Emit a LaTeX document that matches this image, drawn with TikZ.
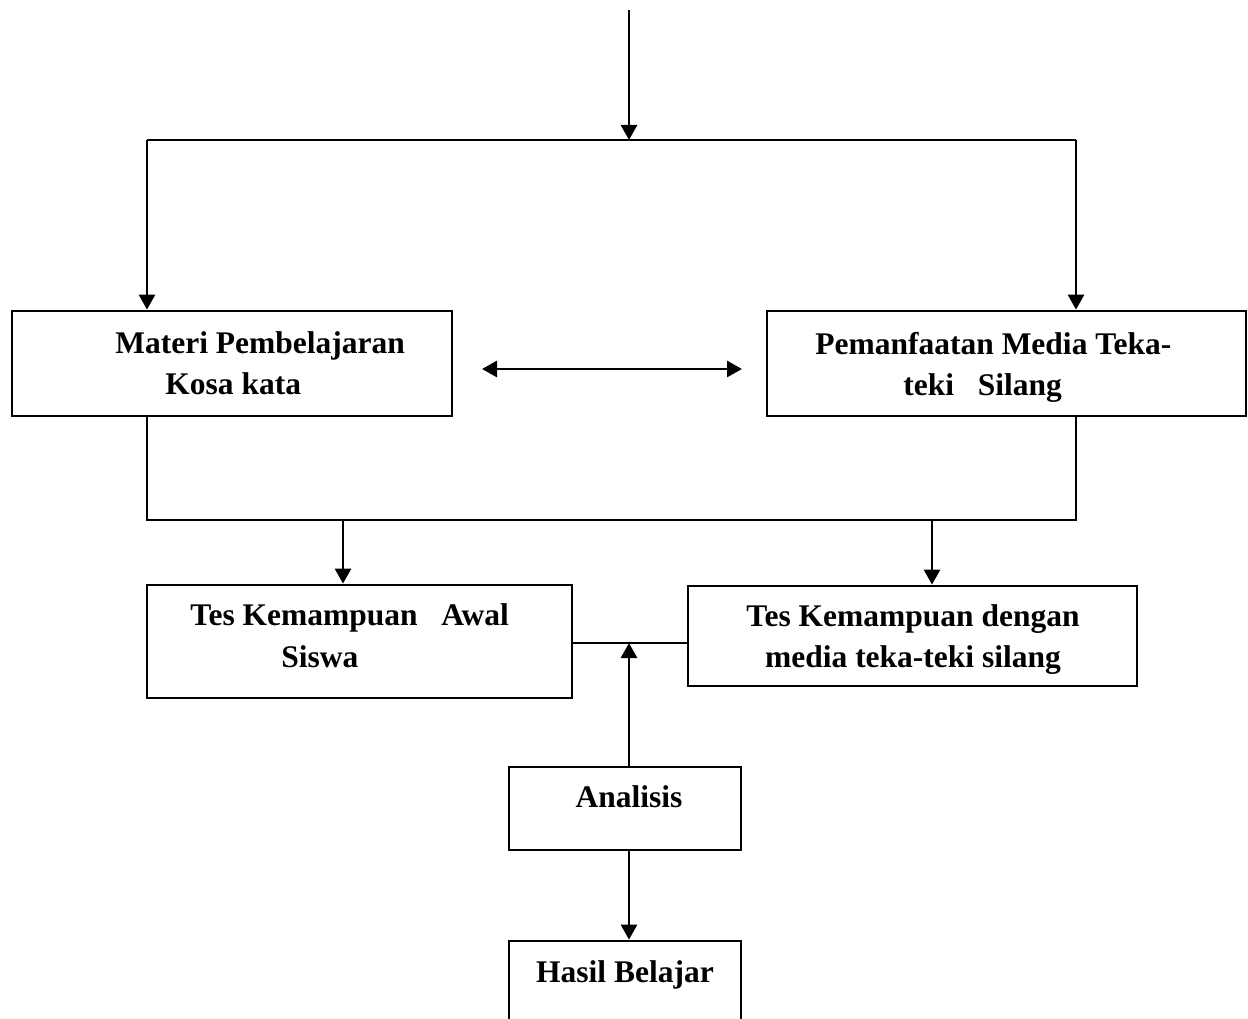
\documentclass[tikz,border=0pt]{standalone}
\usepackage{fontspec}
\setmainfont{Liberation Serif}
\usetikzlibrary{arrows.meta}
\begin{document}
\begin{tikzpicture}[x=1pt,y=-1pt,
  line width=2.8pt,
  arr/.style={-{Triangle[length=15pt,width=16pt]}},
  darr/.style={{Triangle[length=15pt,width=16pt]}-{Triangle[length=15pt,width=16pt]}},
  boxn/.style={draw,line width=2.8pt,inner sep=0pt,rectangle},
  txt/.style={inner sep=0pt,font=\fontsize{31.5}{41}\selectfont\bfseries}]
\useasboundingbox (0,0) rectangle (1248,1019);
\clip (0,0) rectangle (1248,1019);
% boxes
\node[boxn,minimum width=440pt,minimum height=105pt] (b1) at (232,363.5) {};
\node[boxn,minimum width=479pt,minimum height=105pt] (b2) at (1006.5,363.5) {};
\node[boxn,minimum width=425pt,minimum height=113pt] (b3) at (359.5,641.5) {};
\node[boxn,minimum width=449pt,minimum height=100pt] (b4) at (912.5,636) {};
\node[boxn,minimum width=232pt,minimum height=83pt] (b5) at (625,808.5) {};
\node[boxn,minimum width=232pt,minimum height=100pt] (b6) at (625,991) {};
% texts
\node[txt,anchor=base west] (t1a) at (114,353) {Materi Pembelajaran};
\node[txt,anchor=base west] (t1b) at (164,394) {Kosa kata};
\node[txt,anchor=base west] (t2a) at (814,354) {Pemanfaatan Media Teka-};
\node[txt,anchor=base west] (t2b) at (902,395) {teki\ \ \ Silang};
\node[txt,anchor=base west] (t3a) at (189,625) {Tes Kemampuan\ \ \ Awal};
\node[txt,anchor=base west] (t3b) at (280,667) {Siswa};
\node[txt,anchor=base] (t4a) at (913,626) {Tes Kemampuan dengan};
\node[txt,anchor=base] (t4b) at (913,667) {media teka-teki silang};
\node[txt,anchor=base] (t5) at (629,807) {Analisis};
\node[txt,anchor=base] (t6) at (625,982) {Hasil Belajar};
% coordinates
\coordinate (top) at (629,10);
\coordinate (split) at (629,140);
\coordinate (tl) at (147,140);
\coordinate (tr) at (1076,140);
\coordinate (bl) at (147,520);
\coordinate (br) at (1076,520);
\coordinate (dl) at (343,520);
\coordinate (dr) at (932,520);
\coordinate (mid) at (629,643);
\coordinate (da1) at (482,369);
\coordinate (da2) at (742,369);
\coordinate (ax) at (629,0);
% connectors
\draw[arr] (top) -- (split);
\draw (tl) -- (tr);
\draw[arr] (tl) -- (tl |- b1.north);
\draw[arr] (tr) -- (tr |- b2.north);
\draw[darr] (da1) -- (da2);
\draw (b1.south -| bl) -- (bl) -- (br) -- (b2.south -| br);
\draw[arr] (dl) -- (dl |- b3.north);
\draw[arr] (dr) -- (dr |- b4.north);
\draw (b3.east |- mid) -- (b4.west |- mid);
\draw[arr] (b5.north -| ax) -- (mid);
\draw[arr] (b5.south -| ax) -- (b6.north -| ax);
\end{tikzpicture}
\end{document}
